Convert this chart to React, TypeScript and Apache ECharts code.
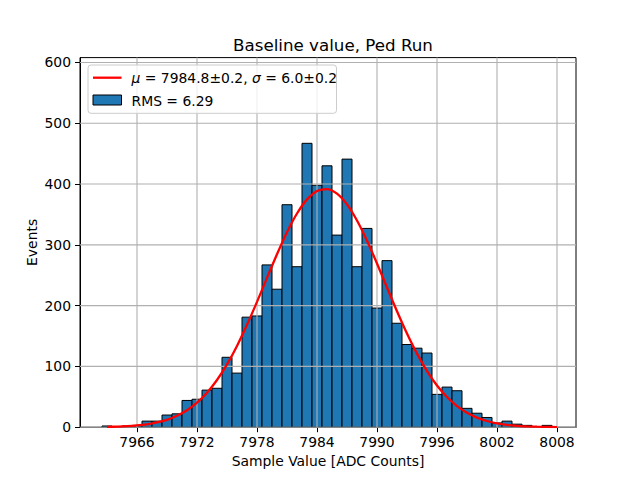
import React, { useEffect, useRef } from "react";
import * as echarts from "echarts";

// Histogram bin centres (bin width 1 ADC count) and counts
const BIN_CENTERS = [
  7963, 7964, 7965, 7966, 7967, 7968, 7969, 7970, 7971, 7972,
  7973, 7974, 7975, 7976, 7977, 7978, 7979, 7980, 7981, 7982,
  7983, 7984, 7985, 7986, 7987, 7988, 7989, 7990, 7991, 7992,
  7993, 7994, 7995, 7996, 7997, 7998, 7999, 8000, 8001, 8002,
  8003, 8004, 8005, 8006, 8007,
];
const COUNTS = [
  2, 1, 2, 3, 10, 10, 20, 22, 44, 46,
  61, 64, 115, 89, 181, 183, 267, 227, 366, 264,
  467, 398, 430, 316, 441, 264, 327, 196, 274, 171,
  136, 130, 122, 54, 66, 60, 31, 23, 16, 7,
  10, 5, 3, 1, 3,
];

// Gaussian fit curve
const FIT_X = [
  7963, 7964, 7965, 7966, 7967, 7968, 7969, 7970, 7971, 7972,
  7973, 7974, 7975, 7976, 7977, 7978, 7979, 7980, 7981, 7982,
  7983, 7984, 7985, 7986, 7987, 7988, 7989, 7990, 7991, 7992,
  7993, 7994, 7995, 7996, 7997, 7998, 7999, 8000, 8001, 8002,
  8003, 8004, 8005, 8006, 8007, 8008,
];
const FIT_Y = [
  0.5, 1.0, 1.7, 2.9, 4.8, 7.8, 12.2, 18.7, 27.8, 40.3,
  56.7, 77.6, 103.3, 133.7, 168.4, 206.2, 245.7, 284.6, 320.8, 351.5,
  374.8, 388.5, 391.8, 384.2, 366.5, 340.0, 306.8, 269.3, 229.8, 190.8,
  154.1, 121.0, 92.4, 68.7, 49.6, 34.8, 23.8, 15.8, 10.2, 6.4,
  3.9, 2.3, 1.4, 0.8, 0.4, 0.2,
];

const X_TICKS = [7966, 7972, 7978, 7984, 7990, 7996, 8002, 8008];
const Y_TICKS = [0, 100, 200, 300, 400, 500, 600];

const X_MIN = 7960.3;
const X_MAX = 8009.9;
const Y_MIN = 0;
const Y_MAX = 608;

const FONT = "DejaVu Sans";

export default function App() {
  const ref = useRef<HTMLDivElement>(null);

  useEffect(() => {
    if (!ref.current) return;
    const chart = echarts.init(ref.current, null, { renderer: "svg" });

    const option: any = {
      animation: false,
      backgroundColor: "#ffffff",
      textStyle: { fontFamily: FONT },
      title: {
        text: "Baseline value, Ped Run",
        left: 328,
        top: 31,
        textAlign: "center",
        textStyle: { fontFamily: FONT, fontSize: 16.7, fontWeight: "normal", color: "#000" },
      },
      grid: {
        left: 80,
        right: 64,
        top: 57.6,
        bottom: 52.8,
        show: true,
        borderColor: "#000",
        borderWidth: 1,
        backgroundColor: "transparent",
      },
      xAxis: {
        type: "value",
        min: X_MIN,
        max: X_MAX,
        name: "Sample Value [ADC Counts]",
        nameLocation: "middle",
        nameGap: 27,
        nameMoveOverlap: false,
        nameTextStyle: { fontFamily: FONT, fontSize: 13.9, color: "#000" },
        axisLine: { show: true, lineStyle: { color: "#000", width: 1 } },
        axisTick: { show: true, customValues: X_TICKS, length: 5, lineStyle: { color: "#000", width: 1 } },
        axisLabel: {
          customValues: X_TICKS,
          margin: 8,
          fontFamily: FONT,
          fontSize: 13.9,
          color: "#000",
          formatter: (v: number) => String(Math.round(v)),
        },
        splitLine: { show: false },
      },
      yAxis: {
        type: "value",
        min: Y_MIN,
        max: Y_MAX,
        name: "Events",
        nameLocation: "middle",
        nameGap: 41.5,
        nameMoveOverlap: false,
        nameTextStyle: { fontFamily: FONT, fontSize: 13.9, color: "#000" },
        axisLine: { show: true, lineStyle: { color: "#000", width: 1 } },
        axisTick: { show: true, customValues: Y_TICKS, length: 5, lineStyle: { color: "#000", width: 1 } },
        axisLabel: {
          customValues: Y_TICKS,
          margin: 9,
          fontFamily: FONT,
          fontSize: 13.9,
          color: "#000",
          formatter: (v: number) => String(Math.round(v)),
        },
        splitLine: { show: false },
      },
      series: [
        {
          name: "RMS = 6.29",
          type: "custom",
          z: 2,
          data: BIN_CENTERS.map((c, i) => [c, COUNTS[i]]),
          renderItem: (params: any, api: any) => {
            const x = api.value(0);
            const y = api.value(1);
            const p0 = api.coord([x - 0.5, y]);
            const p1 = api.coord([x + 0.5, 0]);
            return {
              type: "rect",
              shape: { x: p0[0], y: p0[1], width: p1[0] - p0[0], height: p1[1] - p0[1] },
              style: { fill: "#1f77b4", stroke: "#000", lineWidth: 1 },
            };
          },
        },
        {
          name: "vgrid",
          type: "custom",
          z: 3,
          silent: true,
          data: X_TICKS.map((v) => [v, 0]),
          renderItem: (params: any, api: any) => {
            const cs = params.coordSys;
            const px = api.coord([api.value(0), 0])[0];
            return {
              type: "line",
              shape: { x1: px, y1: cs.y, x2: px, y2: cs.y + cs.height },
              style: { stroke: "#b0b0b0", lineWidth: 1.1 },
            };
          },
        },
        {
          name: "hgrid",
          type: "custom",
          z: 3,
          silent: true,
          data: Y_TICKS.map((v) => [X_MIN, v]),
          renderItem: (params: any, api: any) => {
            const cs = params.coordSys;
            const py = api.coord([X_MIN, api.value(1)])[1];
            return {
              type: "line",
              shape: { x1: cs.x, y1: py, x2: cs.x + cs.width, y2: py },
              style: { stroke: "#b0b0b0", lineWidth: 1.1 },
            };
          },
        },
        {
          name: "fit",
          type: "line",
          z: 4,
          data: FIT_X.map((x, i) => [x, FIT_Y[i]]),
          showSymbol: false,
          smooth: 0.3,
          lineStyle: { color: "#ff0000", width: 2.3 },
        },
      ],
      graphic: [
        {
          type: "rect",
          z: 100,
          shape: { x: 88, y: 65, width: 248.5, height: 48.3, r: 3 },
          style: { fill: "rgba(255,255,255,0.8)", stroke: "#cccccc", lineWidth: 1 },
        },
        {
          type: "line",
          z: 101,
          shape: { x1: 93, y1: 77.7, x2: 121.5, y2: 77.7 },
          style: { stroke: "#ff0000", lineWidth: 2.3 },
        },
        {
          type: "text",
          z: 101,
          x: 131.5,
          y: 78,
          style: {
            text: "{i|μ} = 7984.8±0.2, {i|σ} = 6.0±0.2",
            fontFamily: FONT,
            fontSize: 13.9,
            fill: "#000",
            verticalAlign: "middle",
            rich: {
              i: { fontFamily: FONT, fontSize: 13.9, fontStyle: "italic", fill: "#000" },
            },
          },
        },
        {
          type: "rect",
          z: 101,
          shape: { x: 93, y: 95, width: 28.5, height: 10 },
          style: { fill: "#1f77b4", stroke: "#000", lineWidth: 1 },
        },
        {
          type: "text",
          z: 101,
          x: 131.5,
          y: 100.5,
          style: {
            text: "RMS = 6.29",
            fontFamily: FONT,
            fontSize: 13.9,
            fill: "#000",
            verticalAlign: "middle",
          },
        },
      ],
    };

    chart.setOption(option);
    return () => chart.dispose();
  }, []);

  return (
    <div
      ref={ref}
      style={{ position: "absolute", left: 0, top: 0, width: 640, height: 480 }}
    />
  );
}
